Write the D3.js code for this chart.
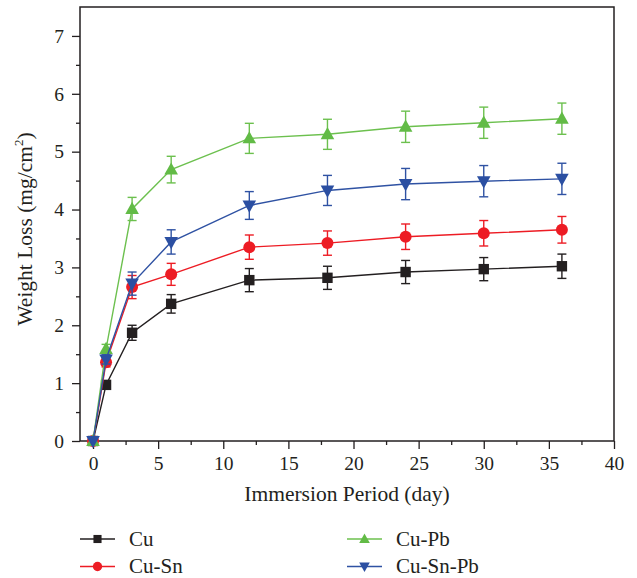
<!DOCTYPE html>
<html>
<head>
<meta charset="utf-8">
<script src="https://cdn.jsdelivr.net/npm/d3@7"></script>
<style>
  html, body { margin: 0; padding: 0; background: #fff; }
  svg { display: block; font-family: "Liberation Serif", "DejaVu Serif", serif; }
</style>
</head>
<body>
<svg id="chart" width="637" height="578"></svg>
<script>
// Weight loss vs immersion period, four alloys with error bars.

const days = [0, 1, 3, 6, 12, 18, 24, 30, 36];

const cuValues = [0, 0.97, 1.87, 2.37, 2.78, 2.82, 2.92, 2.97, 3.02];
const cuErrors = [0, 0.06, 0.13, 0.16, 0.2, 0.2, 0.2, 0.2, 0.21];

const cuSnValues = [0, 1.36, 2.66, 2.88, 3.35, 3.42, 3.53, 3.59, 3.65];
const cuSnErrors = [0, 0.08, 0.2, 0.19, 0.21, 0.21, 0.22, 0.22, 0.23];

const cuPbValues = [0, 1.59, 4.01, 4.69, 5.23, 5.3, 5.43, 5.5, 5.57];
const cuPbErrors = [0, 0.08, 0.2, 0.23, 0.26, 0.26, 0.27, 0.27, 0.27];

const cuSnPbValues = [0, 1.41, 2.72, 3.44, 4.07, 4.33, 4.44, 4.49, 4.53];
const cuSnPbErrors = [0, 0.08, 0.2, 0.21, 0.24, 0.26, 0.27, 0.27, 0.27];

const seriesNames = ["Cu", "Cu-Sn", "Cu-Pb", "Cu-Sn-Pb"];
const xTicks = [0, 5, 10, 15, 20, 25, 30, 35, 40];
const yTicks = [0, 1, 2, 3, 4, 5, 6, 7];

const series = [
  { name: seriesNames[0], values: cuValues, errors: cuErrors, color: "#231f20", line: "#231f20", symbol: "square" },
  { name: seriesNames[1], values: cuSnValues, errors: cuSnErrors, color: "#ed1c24", line: "#ed1c24", symbol: "circle" },
  { name: seriesNames[2], values: cuPbValues, errors: cuPbErrors, color: "#62bb46", line: "#6cc04e", symbol: "up" },
  { name: seriesNames[3], values: cuSnPbValues, errors: cuSnPbErrors, color: "#2b4fa2", line: "#2f52a3", symbol: "down" },
];

const svg = d3.select("#chart");
const plotLeft = 80, plotRight = 614, plotTop = 7, plotBottom = 441;
const axisColor = "#231f20";
const tickFont = 19.5;
const titleFont = 21.5;

const x = d3.scaleLinear().domain([-1, 40]).range([plotLeft, plotRight]);
const y = d3.scaleLinear().domain([0, 7.5]).range([plotBottom, plotTop]);

// frame
svg.append("rect")
  .attr("x", plotLeft).attr("y", plotTop)
  .attr("width", plotRight - plotLeft).attr("height", plotBottom - plotTop)
  .attr("fill", "none").attr("stroke", axisColor).attr("stroke-width", 1.5);

// x axis: majors with labels, minors between
const xAxis = svg.append("g").attr("transform", `translate(0,${plotBottom})`);
xAxis.append("g").call(d3.axisBottom(x).tickValues(d3.range(2.5, 40, 5)).tickSize(4).tickFormat(""));
xAxis.append("g").call(d3.axisBottom(x).tickValues(xTicks).tickSize(8).tickPadding(7).tickFormat(d3.format("d")));
xAxis.selectAll(".domain").remove();
xAxis.selectAll("line").attr("stroke", axisColor).attr("stroke-width", 1.3);
xAxis.selectAll("text").attr("font-size", tickFont).attr("fill", axisColor)
  .attr("font-family", "Liberation Serif, DejaVu Serif, serif");

const yAxis = svg.append("g").attr("transform", `translate(${plotLeft},0)`);
yAxis.append("g").call(d3.axisLeft(y).tickValues(d3.range(0.5, 7.5, 1)).tickSize(4).tickFormat(""));
yAxis.append("g").call(d3.axisLeft(y).tickValues(yTicks).tickSize(8).tickPadding(8).tickFormat(d3.format("d")));
yAxis.selectAll(".domain").remove();
yAxis.selectAll("line").attr("stroke", axisColor).attr("stroke-width", 1.3);
yAxis.selectAll("text").attr("font-size", tickFont).attr("fill", axisColor)
  .attr("font-family", "Liberation Serif, DejaVu Serif, serif");

// axis titles
svg.append("text")
  .attr("x", (plotLeft + plotRight) / 2).attr("y", 501)
  .attr("text-anchor", "middle").attr("font-size", titleFont).attr("fill", axisColor)
  .text("Immersion Period (day)");

const yTitle = svg.append("text")
  .attr("transform", `translate(32,229) rotate(-90)`)
  .attr("text-anchor", "middle").attr("font-size", titleFont).attr("fill", axisColor);
yTitle.append("tspan").text("Weight Loss (mg/cm");
yTitle.append("tspan").attr("font-size", 13).attr("dy", -9).text("2");
yTitle.append("tspan").attr("dy", 9).text(")");

function drawSymbol(g, s, cx, cy, scale) {
  const k = scale || 1;
  if (s.symbol === "square") {
    g.append("rect").attr("x", cx - 5.2 * k).attr("y", cy - 5.2 * k)
      .attr("width", 10.4 * k).attr("height", 10.4 * k).attr("fill", s.color);
  } else if (s.symbol === "circle") {
    g.append("circle").attr("cx", cx).attr("cy", cy).attr("r", 6 * k).attr("fill", s.color);
  } else if (s.symbol === "up") {
    g.append("path").attr("fill", s.color)
      .attr("d", `M${cx},${cy - 7.2 * k}L${cx + 6.8 * k},${cy + 5 * k}L${cx - 6.8 * k},${cy + 5 * k}Z`);
  } else {
    g.append("path").attr("fill", s.color)
      .attr("d", `M${cx},${cy + 7.2 * k}L${cx + 6.8 * k},${cy - 5 * k}L${cx - 6.8 * k},${cy - 5 * k}Z`);
  }
}

const line = d3.line().x((d) => x(d.day)).y((d) => y(d.value));

series.forEach((s) => {
  const pts = days.map((d, i) => ({ day: d, value: s.values[i], err: s.errors[i] }));
  const g = svg.append("g");
  g.append("path").datum(pts).attr("d", line)
    .attr("fill", "none").attr("stroke", s.line).attr("stroke-width", 1.4);

  pts.forEach((p) => {
    if (p.err <= 0) return;
    const px = x(p.day);
    const y1 = y(p.value + p.err), y2 = y(p.value - p.err);
    g.append("line").attr("x1", px).attr("x2", px).attr("y1", y1).attr("y2", y2)
      .attr("stroke", s.line).attr("stroke-width", 1.4);
    [y1, y2].forEach((yy) => {
      g.append("line").attr("x1", px - 4.5).attr("x2", px + 4.5).attr("y1", yy).attr("y2", yy)
        .attr("stroke", s.line).attr("stroke-width", 1.4);
    });
  });

  pts.forEach((p) => drawSymbol(g, s, x(p.day), y(p.value)));
});

// legend, two columns
const legendPos = [
  { x: 80, y: 539 }, { x: 80, y: 566.5 },
  { x: 347, y: 539 }, { x: 347, y: 566.5 },
];
series.forEach((s, i) => {
  const p = legendPos[i];
  const g = svg.append("g");
  g.append("line").attr("x1", p.x).attr("x2", p.x + 35).attr("y1", p.y).attr("y2", p.y)
    .attr("stroke", s.line).attr("stroke-width", 1.4);
  drawSymbol(g, s, p.x + 17.5, p.y, 0.78);
  g.append("text").attr("x", p.x + 49).attr("y", p.y + 6.5)
    .attr("font-size", 21).attr("fill", axisColor).text(s.name);
});
</script>
</body>
</html>
